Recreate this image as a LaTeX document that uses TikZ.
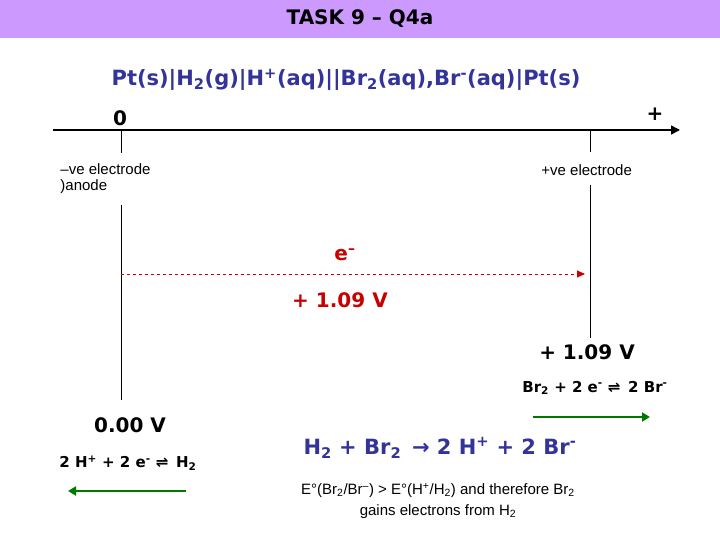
\documentclass[tikz,border=0pt]{standalone}
\usepackage{fontspec}
\setmainfont{DejaVu Sans}
\newfontfamily\narrowf{Liberation Sans}
\usetikzlibrary{arrows.meta}
\definecolor{band}{RGB}{204,153,255}
\definecolor{navy}{RGB}{51,51,153}
\definecolor{grn}{RGB}{0,120,0}
\definecolor{rd}{RGB}{200,0,0}
\newcommand{\sbs}[1]{\textsubscript{#1}}
\newcommand{\sps}[1]{\textsuperscript{#1}}
\tikzset{
 lab/.style={inner sep=0pt,font=\fontsize{15}{16}\selectfont\narrowf},
 big/.style={inner sep=0pt,font=\fontsize{20}{22}\selectfont\bfseries},
 eqn/.style={inner sep=0pt,font=\fontsize{15}{17}\selectfont\bfseries},
 garrow/.style={grn,line width=2pt,-{Triangle[length=8pt,width=9pt]}}
}
\begin{document}
\begin{tikzpicture}[x=1pt,y=-1pt,line width=0.9pt]
\useasboundingbox (0,0) rectangle (720,540);
\fill[band] (0,0) rectangle (720,38);
\node[big] (title) at (360,19) {TASK 9 – Q4a};
\node[inner sep=0pt,text=navy,font=\fontsize{21}{23}\selectfont\bfseries] (cell) at (346,80) {Pt(s)|H\sbs{2}(g)|H\sps{+}(aq)||Br\sbs{2}(aq),Br\sps{-}(aq)|Pt(s)};
\coordinate (a0) at (53,130); \coordinate (a1) at (680,130);
\draw[line width=1.5pt,-{Triangle[length=9pt,width=9pt]}] (a0) -- (a1);
\node[big] (zero) at (120,118) {0};
\node[big] (plus) at (655,114) {+};
\coordinate (l0) at (121,130); \coordinate (l1) at (121,153);
\coordinate (l2) at (121,205); \coordinate (l3) at (121,400);
\draw (l0) -- (l1); \draw (l2) -- (l3);
\coordinate (r0) at (590,130); \coordinate (r1) at (590,152);
\coordinate (r2) at (590,185); \coordinate (r3) at (590,338);
\draw (r0) -- (r1); \draw (r2) -- (r3);
\node[lab,anchor=west,align=left] (neg) at (60,179) {–ve electrode\\)anode};
\node[lab,anchor=west] (pos) at (541,170) {+ve electrode};
\coordinate (d0) at (121,274); \coordinate (d1) at (585,274);
\draw[rd,dashed,-{Triangle[length=8pt,width=7pt]}] (d0) -- (d1);
\node[big,text=rd] (el) at (345,255) {e\sps{–}};
\node[big,text=rd] (v1) at (340,300) {+ 1.09 V};
\node[big] (v2) at (587,352) {+ 1.09 V};
\node[eqn] (breq) at (595,388) {Br\sbs{2} + 2 e\sps{-} ⇌ \,2 Br\sps{-}};
\coordinate (g0) at (533,417); \coordinate (g1) at (650,417);
\draw[garrow] (g0) -- (g1);
\node[big] (v0) at (130,425) {0.00 V};
\node[eqn] (heq) at (128,463) {2 H\sps{+} + 2 e\sps{-} ⇌ \,H\sbs{2}};
\coordinate (h0) at (186,491); \coordinate (h1) at (68,491);
\draw[garrow] (h0) -- (h1);
\node[inner sep=0pt,text=navy,font=\fontsize{21}{23}\selectfont\bfseries] (overall) at (440,448) {H\sbs{2} + Br\sbs{2} \,→ 2 H\sps{+} + 2 Br\sps{-}};
\node[inner sep=0pt,font=\fontsize{15}{21}\selectfont\narrowf,align=center] (note) at (438,501) {E°(Br\sbs{2}/Br\sps{–}) > E°(H\sps{+}/H\sbs{2}) and therefore Br\sbs{2}\\gains electrons from H\sbs{2}};
\end{tikzpicture}
\end{document}
